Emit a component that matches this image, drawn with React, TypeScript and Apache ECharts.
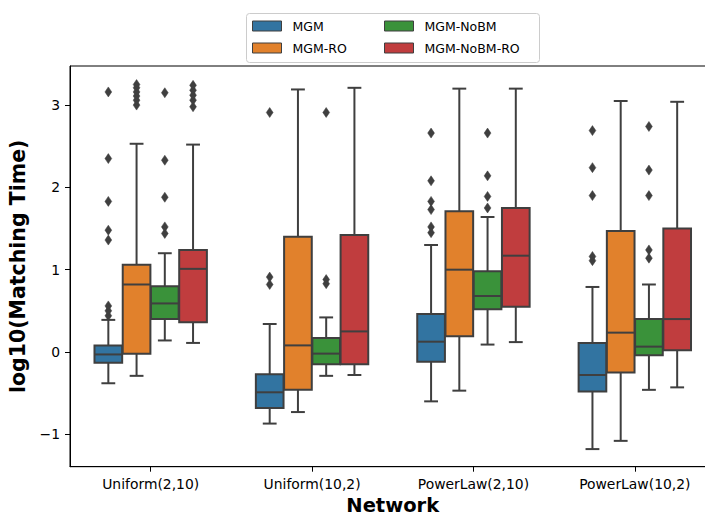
import React, { useEffect, useRef } from 'react';
import * as echarts from 'echarts';

const categories = ['Uniform(2,10)', 'Uniform(10,2)', 'PowerLaw(2,10)', 'PowerLaw(10,2)'];
const seriesNames = ['MGM', 'MGM-RO', 'MGM-NoBM', 'MGM-NoBM-RO'];
const seriesColors = ['#3274a1', '#e1812c', '#3a923a', '#c03d3e'];
const yTicks = [-1, 0, 1, 2, 3];

// [lower whisker, Q1, median, Q3, upper whisker] per category
const mgmBoxes = [
  [-0.38, -0.13, -0.03, 0.08, 0.39],
  [-0.87, -0.68, -0.49, -0.27, 0.34],
  [-0.6, -0.12, 0.125, 0.46, 1.3],
  [-1.18, -0.48, -0.28, 0.11, 0.79],
];
const mgmRoBoxes = [
  [-0.29, -0.02, 0.82, 1.06, 2.53],
  [-0.73, -0.46, 0.08, 1.4, 3.19],
  [-0.47, 0.19, 1.0, 1.71, 3.2],
  [-1.08, -0.25, 0.235, 1.47, 3.05],
];
const mgmNoBmBoxes = [
  [0.14, 0.4, 0.59, 0.8, 1.2],
  [-0.29, -0.15, -0.02, 0.17, 0.42],
  [0.09, 0.52, 0.68, 0.98, 1.64],
  [-0.46, -0.04, 0.065, 0.4, 0.82],
];
const mgmNoBmRoBoxes = [
  [0.11, 0.36, 1.01, 1.24, 2.52],
  [-0.28, -0.15, 0.25, 1.42, 3.21],
  [0.12, 0.55, 1.17, 1.75, 3.2],
  [-0.43, 0.02, 0.4, 1.5, 3.04],
];

// outliers per category
const mgmOutliers = [
  [0.44, 0.5, 0.56, 1.36, 1.48, 1.83, 2.35, 3.16],
  [0.82, 0.91, 2.91],
  [1.45, 1.52, 1.73, 1.83, 2.08, 2.66],
  [1.11, 1.16, 1.9, 2.24, 2.69],
];
const mgmRoOutliers = [
  [3.0, 3.06, 3.11, 3.16, 3.21, 3.25],
  [],
  [],
  [],
];
const mgmNoBmOutliers = [
  [1.44, 1.52, 1.88, 2.33, 3.15],
  [0.83, 0.88, 2.91],
  [1.75, 1.89, 2.14, 2.66],
  [1.14, 1.24, 1.9, 2.21, 2.74],
];
const mgmNoBmRoOutliers = [
  [2.98, 3.06, 3.12, 3.18, 3.24],
  [],
  [],
  [],
];

const allBoxes = [mgmBoxes, mgmRoBoxes, mgmNoBmBoxes, mgmNoBmRoBoxes];
const allOutliers = [mgmOutliers, mgmRoOutliers, mgmNoBmOutliers, mgmNoBmRoOutliers];

const EDGE = '#3f3f3f';
const FONT = 'DejaVu Sans';
const GROUP_WIDTH = 0.7;
const LINE_W = 2;

function hueOffset(api: any, k: number, n: number) {
  const band = api.size([1, 0])[0];
  const slot = (band * GROUP_WIDTH) / n;
  return { offset: (k - (n - 1) / 2) * slot, width: slot * 0.98 };
}

function makeBoxRender(k: number, n: number, color: string) {
  return (params: any, api: any) => {
    const cat = api.value(0);
    const { offset, width } = hueOffset(api, k, n);
    const cx = api.coord([cat, 0])[0] + offset;
    const yLow = api.coord([cat, api.value(1)])[1];
    const yQ1 = api.coord([cat, api.value(2)])[1];
    const yMed = api.coord([cat, api.value(3)])[1];
    const yQ3 = api.coord([cat, api.value(4)])[1];
    const yHigh = api.coord([cat, api.value(5)])[1];
    const ls = { stroke: EDGE, lineWidth: LINE_W, fill: null };
    const hw = width / 2;
    const cw = width / 4;
    return {
      type: 'group',
      children: [
        { type: 'line', shape: { x1: cx, y1: yQ1, x2: cx, y2: yLow }, style: ls },
        { type: 'line', shape: { x1: cx, y1: yQ3, x2: cx, y2: yHigh }, style: ls },
        { type: 'line', shape: { x1: cx - cw, y1: yLow, x2: cx + cw, y2: yLow }, style: ls },
        { type: 'line', shape: { x1: cx - cw, y1: yHigh, x2: cx + cw, y2: yHigh }, style: ls },
        {
          type: 'rect',
          shape: { x: cx - hw, y: yQ3, width: width, height: yQ1 - yQ3 },
          style: { fill: color, stroke: EDGE, lineWidth: LINE_W },
        },
        { type: 'line', shape: { x1: cx - hw, y1: yMed, x2: cx + hw, y2: yMed }, style: ls },
      ],
    };
  };
}

function makeOutlierRender(k: number, n: number) {
  return (params: any, api: any) => {
    const cat = api.value(0);
    const { offset } = hueOffset(api, k, n);
    const p = api.coord([cat, api.value(1)]);
    const cx = p[0] + offset;
    const cy = p[1];
    return {
      type: 'polygon',
      shape: { points: [[cx, cy - 5], [cx + 3.4, cy], [cx, cy + 5], [cx - 3.4, cy]] },
      style: { fill: EDGE, stroke: EDGE, lineWidth: 0.5 },
    };
  };
}

export default function App() {
  const ref = useRef<HTMLDivElement>(null);
  useEffect(() => {
    if (!ref.current) return;
    const chart = echarts.init(ref.current, undefined, { renderer: 'svg' });
    const n = seriesNames.length;
    const series: any[] = [];
    seriesNames.forEach((name, k) => {
      series.push({
        type: 'custom',
        name,
        itemStyle: { color: seriesColors[k] },
        renderItem: makeBoxRender(k, n, seriesColors[k]),
        encode: { x: 0, y: [1, 2, 3, 4, 5] },
        data: allBoxes[k].map((b, i) => [i, ...b]),
        z: 2,
      });
    });
    seriesNames.forEach((name, k) => {
      const pts: number[][] = [];
      allOutliers[k].forEach((vals, i) => vals.forEach((v) => pts.push([i, v])));
      series.push({
        type: 'custom',
        name: name + ' outliers',
        renderItem: makeOutlierRender(k, n),
        encode: { x: 0, y: 1 },
        data: pts,
        z: 3,
      });
    });
    const legendItem = (k: number) => ({
      name: seriesNames[k],
      itemStyle: { color: seriesColors[k], borderColor: EDGE, borderWidth: 1 },
    });
    const legendBase = {
      orient: 'vertical',
      top: 19,
      icon: 'rect',
      itemWidth: 29,
      itemHeight: 10,
      itemGap: 8,
      padding: 0,
      selectedMode: false,
      textStyle: { fontFamily: FONT, fontSize: 12.5, color: '#000', lineHeight: 14, padding: [0, 0, 0, 6] },
    };
    chart.setOption({
      animation: false,
      backgroundColor: '#ffffff',
      textStyle: { fontFamily: FONT },
      graphic: [
        {
          type: 'rect',
          left: 246,
          top: 13,
          z: 1,
          shape: { width: 293, height: 49, r: 3 },
          style: { fill: 'rgba(255,255,255,0.8)', stroke: '#cccccc', lineWidth: 1 },
        },
      ],
      legend: [
        { ...legendBase, left: 252, data: [legendItem(0), legendItem(1)] },
        { ...legendBase, left: 384, data: [legendItem(2), legendItem(3)] },
      ],
      grid: {
        left: 70,
        top: 66,
        width: 645.5,
        height: 400.7,
        show: true,
        borderColor: '#000',
        borderWidth: 1,
        backgroundColor: 'transparent',
        containLabel: false,
        outerBoundsMode: 'none',
      },
      xAxis: {
        type: 'category',
        data: categories,
        name: 'Network',
        nameLocation: 'middle',
        nameGap: 25,
        nameTextStyle: { fontFamily: FONT, fontSize: 19.5, fontWeight: 'bold', color: '#000', lineHeight: 20 },
        axisLine: { show: true, onZero: false, lineStyle: { color: '#000', width: 1 } },
        axisTick: { show: true, alignWithLabel: true, length: 5, lineStyle: { color: '#000', width: 1 } },
        axisLabel: { margin: 10, fontFamily: FONT, fontSize: 13.9, color: '#000' },
        splitLine: { show: false },
      },
      yAxis: {
        type: 'value',
        min: -1.394,
        max: 3.475,
        name: 'log10(Matching Time)',
        nameLocation: 'middle',
        nameGap: 30,
        nameTextStyle: { fontFamily: FONT, fontSize: 20.5, fontWeight: 'bold', color: '#000' },
        axisLine: { show: true, onZero: false, lineStyle: { color: '#000', width: 1 } },
        axisTick: { show: true, length: 5, customValues: yTicks, lineStyle: { color: '#000', width: 1 } },
        axisLabel: {
          customValues: yTicks,
          margin: 10,
          fontFamily: FONT,
          fontSize: 13.9,
          color: '#000',
          formatter: (v: number) => String(v).replace('-', '\u2212'),
        },
        splitLine: { show: false },
      },
      series,
    });
    return () => chart.dispose();
  }, []);
  return (
    <div
      ref={ref}
      style={{ position: 'absolute', left: 0, top: 0, width: 705, height: 516, background: '#fff' }}
    />
  );
}
